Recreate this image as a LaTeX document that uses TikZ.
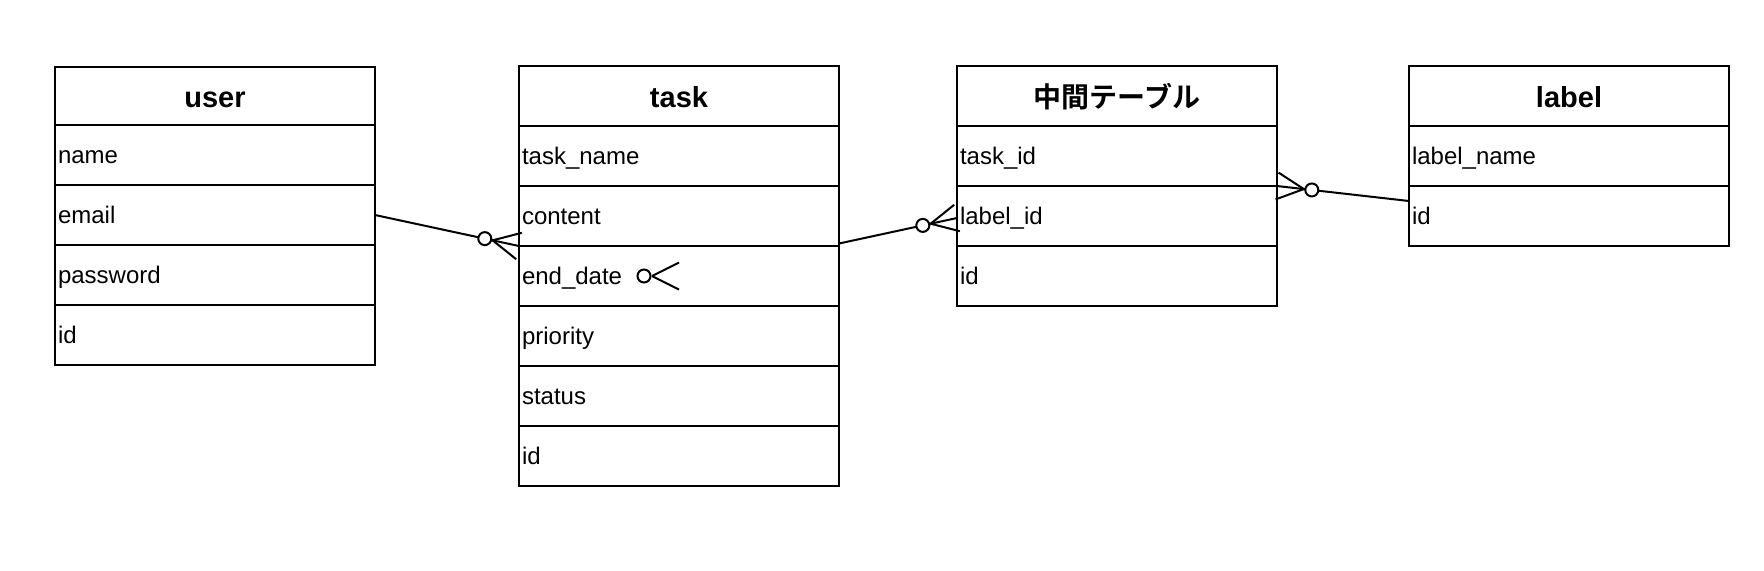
\documentclass[tikz,border=0pt]{standalone}
\usepackage{fontspec}
\setmainfont{Liberation Sans}
\newfontfamily\jpfont{Noto Sans CJK JP}[BoldFont={Noto Sans CJK JP Bold}]
\usepackage{tikz}
\usetikzlibrary{positioning}
\usetikzlibrary{calc}

% zero-or-many end: circle and crow's foot at #2, line coming from #1
\newcommand{\crowfoot}[2]{%
	\draw ($(#2)!13.5pt!(#1)$) -- ($(#2)!6.75pt!90:(#1)$)
	      ($(#2)!13.5pt!(#1)$) -- ($(#2)!6.75pt!-90:(#1)$);
	\draw[fill=white] ($(#2)!17.5pt!(#1)$) circle (3.25pt);
}

\begin{document}
\begin{tikzpicture}[
			line width=1pt,
			tablehead/.style={
				rectangle,
				draw,
				minimum width=160pt,
				minimum height=30pt,
				inner sep=0pt,
				outer sep=0pt,
				text height=13pt,
				text depth=2pt,
				font=\fontsize{14.5}{17}\selectfont\bfseries
			},
			field/.style={
				rectangle,
				draw,
				text width=157pt,
				inner xsep=1.5pt,
				inner ysep=0pt,
				minimum height=30pt,
				outer sep=0pt,
				text height=10.4pt,
				text depth=2pt,
				align=left,
				font=\fontsize{12}{14}\selectfont
			}
			]
			\useasboundingbox (0,0) rectangle (882pt,-285pt);
			
			% Tabla user
			\node[tablehead, minimum height=29pt, anchor=north west] (userh) at (27.5pt,-33.5pt) {user};
			\node[field, below=0pt of userh] (uname) {name};
			\node[field, below=0pt of uname] (uemail) {email};
			\node[field, below=0pt of uemail] (upass) {password};
			\node[field, below=0pt of upass] (uid) {id};
			
			% Tabla task
			\node[tablehead, right=72pt of userh] (taskh) {task};
			\node[field, below=0pt of taskh] (tname) {task\_name};
			\node[field, below=0pt of tname] (tcontent) {content};
			\node[field, below=0pt of tcontent] (tend) {end\_date};
			\node[field, below=0pt of tend] (tprio) {priority};
			\node[field, below=0pt of tprio] (tstatus) {status};
			\node[field, below=0pt of tstatus] (tid) {id};
			
			% Tabla intermedia
			\node[tablehead, right=59pt of taskh] (midh) {\jpfont\bfseries\fontsize{14}{17}\selectfont 中間テーブル};
			\node[field, below=0pt of midh] (mtask) {task\_id};
			\node[field, below=0pt of mtask] (mlabel) {label\_id};
			\node[field, below=0pt of mlabel] (mid) {id};
			
			% Tabla label
			\node[tablehead, right=66pt of midh] (labelh) {label};
			\node[field, below=0pt of labelh] (lname) {label\_name};
			\node[field, below=0pt of lname] (lid) {id};
			
			% Relaciones
			\draw (uemail.east) -- (tcontent.south west);
			\crowfoot{uemail.east}{tcontent.south west}
			
			\coordinate (tstart) at ([yshift=1.25pt]tcontent.south east);
			\coordinate (mend) at ([yshift=-1pt]mlabel.west);
			\draw (tstart) -- (mend);
			\crowfoot{tstart}{mend}
			
			\coordinate (lstart) at ($(lid.north west)!0.25!(lid.south west)$);
			\draw (lstart) -- (mtask.south east);
			\crowfoot{lstart}{mtask.south east}
			
			% Extremo suelto junto a end_date
			\coordinate (fa) at ([xshift=40pt]tend.west);
			\coordinate (fb) at ([xshift=80pt]tend.west);
			\crowfoot{fa}{fb}
			
		\end{tikzpicture}
\end{document}
